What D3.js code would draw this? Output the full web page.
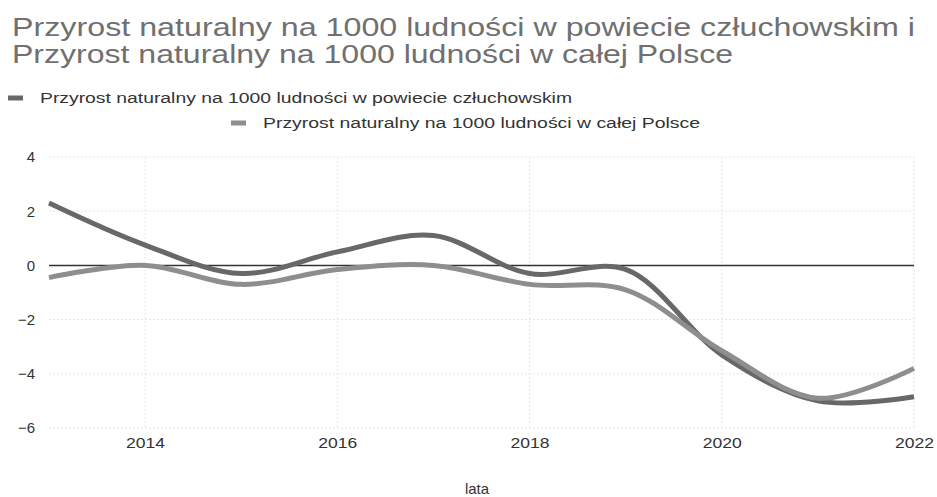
<!DOCTYPE html>
<html>
<head>
<meta charset="utf-8">
<script src="https://cdn.jsdelivr.net/npm/d3@7"></script>
<style>
  html, body { margin: 0; padding: 0; background: #fff; }
  svg { display: block; font-family: "Liberation Sans", Arial, sans-serif; }
</style>
</head>
<body>
<div id="chart"></div>
<script>
// Dane
const years   = [2013, 2014, 2015, 2016, 2017, 2018, 2019, 2020, 2021, 2022];
const powiat  = [2.3, 0.75, -0.3, 0.5, 1.1, -0.3, -0.15, -3.3, -5.0, -4.85];
const polska  = [-0.45, 0.0, -0.7, -0.15, 0.0, -0.7, -0.9, -3.15, -4.9, -3.8];
const yTicks  = [4, 2, 0, -2, -4, -6];
const xTicks  = [2014, 2016, 2018, 2020, 2022];
const seriesNames = [
    'Przyrost naturalny na 1000 ludności w powiecie człuchowskim',
    'Przyrost naturalny na 1000 ludności w całej Polsce'
];
const titleLines = [
    'Przyrost naturalny na 1000 ludności w powiecie człuchowskim i',
    'Przyrost naturalny na 1000 ludności w całej Polsce'
];
const seriesColors = ['#686868', '#8e8e8e'];

const W = 937, H = 497;
const plot = { left: 49, right: 914, top: 157, bottom: 428 };

const svg = d3.select('#chart').append('svg')
    .attr('width', W)
    .attr('height', H);

const x = d3.scaleLinear().domain([2013, 2022]).range([plot.left, plot.right]);
const y = d3.scaleLinear().domain([-6, 4]).range([plot.bottom, plot.top]);

// ── Tytuł (obraz źródłowy jest rozciągnięty w poziomie → textLength) ─────
const titleLen = [903, 721];
svg.append('g')
    .selectAll('text')
    .data(titleLines)
    .join('text')
    .attr('x', 12)
    .attr('y', (d, i) => 36 + i * 27)
    .attr('fill', '#707070')
    .attr('font-size', 25.5)
    .attr('textLength', (d, i) => titleLen[i])
    .attr('lengthAdjust', 'spacingAndGlyphs')
    .text(d => d);

// ── Legenda ──────────────────────────────────────────────────────────────
const legendPos = [{ x: 8, y: 98, len: 532 }, { x: 231, y: 123, len: 437 }];
seriesNames.forEach((name, i) => {
    const p = legendPos[i];
    const g = svg.append('g')
        .attr('transform', `translate(${p.x},${p.y})`);
    g.append('line')
        .attr('x1', 0).attr('x2', 15)
        .attr('stroke', seriesColors[i])
        .attr('stroke-width', 5);
    g.append('text')
        .attr('x', 32)
        .attr('dy', '0.35em')
        .attr('font-size', 14)
        .attr('fill', '#333')
        .attr('textLength', p.len)
        .attr('lengthAdjust', 'spacingAndGlyphs')
        .text(name);
});

// ── Siatka ───────────────────────────────────────────────────────────────
const grid = svg.append('g')
    .attr('stroke', '#e6e6e6')
    .attr('stroke-width', 1)
    .attr('stroke-dasharray', '2,2');
grid.selectAll('line.h')
    .data(yTicks.filter(d => d !== 0))
    .join('line')
    .attr('x1', plot.left).attr('x2', plot.right)
    .attr('y1', d => y(d)).attr('y2', d => y(d));
grid.selectAll('line.v')
    .data(xTicks)
    .join('line')
    .attr('y1', plot.top).attr('y2', plot.bottom)
    .attr('x1', d => x(d)).attr('x2', d => x(d));

// ── Osie ─────────────────────────────────────────────────────────────────
const yAxis = svg.append('g')
    .attr('transform', `translate(${plot.left - 11},0)`)
    .call(d3.axisLeft(y).tickValues(yTicks).tickSize(0).tickFormat(d3.format('d')));
yAxis.select('.domain').remove();
yAxis.selectAll('text')
    .attr('font-size', 15)
    .attr('fill', '#333')
    .attr('font-family', '"Liberation Sans", Arial, sans-serif');

const xAxis = svg.append('g')
    .attr('transform', `translate(0,${plot.bottom + 6})`)
    .call(d3.axisBottom(x).tickValues(xTicks).tickSize(0).tickFormat(d3.format('d')));
xAxis.select('.domain').remove();
xAxis.selectAll('text')
    .attr('font-size', 15.5)
    .attr('fill', '#333')
    .attr('textLength', 39)
    .attr('lengthAdjust', 'spacingAndGlyphs')
    .attr('font-family', '"Liberation Sans", Arial, sans-serif');

svg.append('text')
    .attr('x', 477)
    .attr('y', 494)
    .attr('text-anchor', 'middle')
    .attr('font-size', 15)
    .attr('fill', '#333')
    .text('lata');

// linia zera
svg.append('line')
    .attr('x1', plot.left).attr('x2', plot.right)
    .attr('y1', y(0)).attr('y2', y(0))
    .attr('stroke', '#333')
    .attr('stroke-width', 1.5);

// ── Serie ────────────────────────────────────────────────────────────────
const line = d3.line()
    .x((d, i) => x(years[i]))
    .y(d => y(d))
    .curve(d3.curveCatmullRom.alpha(0.5));

[powiat, polska].forEach((vals, i) => {
    svg.append('path')
        .attr('d', line(vals))
        .attr('fill', 'none')
        .attr('stroke', seriesColors[i])
        .attr('stroke-width', 5)
        .attr('stroke-linejoin', 'round');
});
</script>
</body>
</html>
